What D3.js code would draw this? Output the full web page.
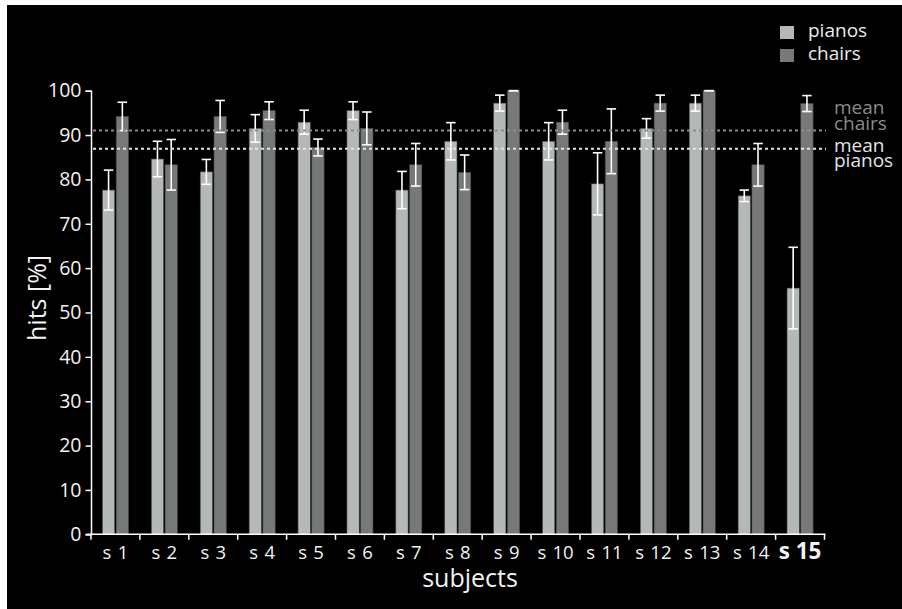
<!DOCTYPE html>
<html>
<head>
<meta charset="utf-8">
<script src="https://cdn.jsdelivr.net/npm/d3@7"></script>
<style>
  html, body { margin: 0; padding: 0; background: #fff; }
  svg { display: block; }
  text { font-family: "Open Sans", "DejaVu Sans", sans-serif; }
</style>
</head>
<body>
<svg id="chart" width="902" height="609"></svg>
<script>
// Per-subject hit rates (%) with error half-widths
const subjects = ["s 1","s 2","s 3","s 4","s 5","s 6","s 7","s 8","s 9","s 10","s 11","s 12","s 13","s 14","s 15"];
const series = ["pianos", "chairs"];
const pianos    = [77.6, 84.6, 81.7, 91.5, 92.9, 95.5, 77.6, 88.6, 97.2, 88.6, 79.0, 91.5, 97.2, 76.3, 55.5];
const pianosErr = [ 4.5,  4.0,  2.8,  3.1,  2.7,  2.0,  4.2,  4.2,  1.8,  4.2,  7.0,  2.2,  1.8,  1.3,  9.2];
const chairs    = [94.2, 83.3, 94.2, 95.5, 87.2, 91.5, 83.3, 81.6, 100,  92.9, 88.6, 97.2, 100,  83.3, 97.1];
const chairsErr = [ 3.2,  5.7,  3.6,  2.0,  1.9,  3.7,  4.8,  3.9,  0.0,  2.7,  7.3,  1.8,  0.0,  4.8,  1.8];
const yTicks = [0, 10, 20, 30, 40, 50, 60, 70, 80, 90, 100];
// Group means over subjects s 1 – s 14
const meanPianos = 86.9;
const meanChairs = 91.0;

const colors = { pianos: "#b5b8b8", chairs: "#777878" };
const meanColors = { pianos: "#e4e4e4", chairs: "#8c8c8c" };

const svg = d3.select("#chart");

// white page with a black panel
svg.append("rect").attr("x", 0).attr("y", 0).attr("width", 902).attr("height", 609).attr("fill", "#fff");
svg.append("rect").attr("x", 7).attr("y", 5).attr("width", 895).attr("height", 604).attr("fill", "#000");

const x0 = d3.scaleBand().domain(subjects).range([91, 824.5]).padding(0);
const x1 = d3.scaleBand().domain(series).range([0, x0.bandwidth()])
  .paddingInner(0.11).paddingOuter(0.83);
const y = d3.scaleLinear().domain([0, 100]).range([534.3, 90.7]);

const rows = subjects.map((s, i) => ({
  subject: s,
  values: [
    { key: "pianos", v: pianos[i], e: pianosErr[i] },
    { key: "chairs", v: chairs[i], e: chairsErr[i] }
  ]
}));

// bars
const groups = svg.append("g").selectAll("g").data(rows).join("g")
  .attr("transform", d => `translate(${x0(d.subject)},0)`);

groups.selectAll("rect").data(d => d.values).join("rect")
  .attr("x", d => x1(d.key))
  .attr("width", x1.bandwidth())
  .attr("y", d => y(d.v))
  .attr("height", d => y(0) - y(d.v))
  .attr("fill", d => colors[d.key])
  .attr("stroke", "#4a4a4a")
  .attr("stroke-width", 0.6);

// mean lines
const meanG = svg.append("g");
[["chairs", meanChairs], ["pianos", meanPianos]].forEach(([k, m]) => {
  meanG.append("line")
    .attr("x1", 93).attr("x2", 826)
    .attr("y1", y(m)).attr("y2", y(m))
    .attr("stroke", meanColors[k])
    .attr("stroke-width", 2)
    .attr("stroke-dasharray", "3,3");
});

// error bars
const capW = 9.5;
const eb = groups.selectAll("g.err").data(d => d.values).join("g").attr("class", "err")
  .attr("stroke", "#fff").attr("stroke-width", 1.6).attr("fill", "none");
eb.append("line")
  .attr("x1", d => x1(d.key) + x1.bandwidth() / 2)
  .attr("x2", d => x1(d.key) + x1.bandwidth() / 2)
  .attr("y1", d => y(Math.min(100, d.v + d.e)))
  .attr("y2", d => y(d.v - d.e));
eb.append("line")
  .attr("x1", d => x1(d.key) + x1.bandwidth() / 2 - capW / 2)
  .attr("x2", d => x1(d.key) + x1.bandwidth() / 2 + capW / 2)
  .attr("y1", d => y(Math.min(100, d.v + d.e)))
  .attr("y2", d => y(Math.min(100, d.v + d.e)));
eb.append("line")
  .attr("x1", d => x1(d.key) + x1.bandwidth() / 2 - capW / 2)
  .attr("x2", d => x1(d.key) + x1.bandwidth() / 2 + capW / 2)
  .attr("y1", d => y(d.v - d.e))
  .attr("y2", d => y(d.v - d.e));

// y axis
const yAxis = svg.append("g").attr("transform", "translate(91,0)")
  .call(d3.axisLeft(y).tickValues(yTicks).tickSize(5.5).tickPadding(4));
yAxis.select(".domain").attr("stroke", "#fff").attr("stroke-width", 1.5);
yAxis.selectAll(".tick line").attr("stroke", "#fff").attr("stroke-width", 1.5);
yAxis.selectAll(".tick text").attr("fill", "#f2f2f2").attr("font-size", 19.5)
  .attr("font-family", "'Open Sans', sans-serif");

// x axis: ticks on the band boundaries
const xAxisG = svg.append("g").attr("transform", `translate(0,${y(0)})`);
xAxisG.append("line").attr("x1", 86).attr("x2", 825.5).attr("y1", 0).attr("y2", 0)
  .attr("stroke", "#fff").attr("stroke-width", 1.5);
const boundaries = subjects.map(s => x0(s)).concat([x0(subjects[subjects.length - 1]) + x0.bandwidth()]);
xAxisG.selectAll("line.tk").data(boundaries).join("line").attr("class", "tk")
  .attr("x1", d => d).attr("x2", d => d).attr("y1", 0).attr("y2", 5.5)
  .attr("stroke", "#fff").attr("stroke-width", 1.5);
xAxisG.selectAll("text").data(subjects).join("text")
  .attr("x", d => x0(d) + x0.bandwidth() / 2)
  .attr("y", 24.5)
  .attr("text-anchor", "middle")
  .attr("fill", "#f2f2f2")
  .attr("font-size", (d, i) => i === subjects.length - 1 ? 22.5 : 18.5)
  .attr("font-weight", (d, i) => i === subjects.length - 1 ? "bold" : "normal")
  .attr("word-spacing", (d, i) => i === subjects.length - 1 ? 0 : 1.5)
  .text(d => d);

// axis titles
svg.append("text").attr("x", 470).attr("y", 586.5).attr("text-anchor", "middle")
  .attr("fill", "#f2f2f2").attr("font-size", 25).text("subjects");
svg.append("text").attr("transform", "translate(46,298) rotate(-90)").attr("text-anchor", "middle")
  .attr("fill", "#f2f2f2").attr("font-size", 25).text("hits [%]");

// mean labels, two lines each
const ml = svg.append("g").attr("font-size", 19);
[["chairs", 114.3], ["pianos", 151.5]].forEach(([k, yy]) => {
  const t = ml.append("text").attr("x", 834).attr("y", yy).attr("fill", meanColors[k]);
  t.append("tspan").attr("x", 834).text("mean");
  t.append("tspan").attr("x", 834).attr("dy", 15.7).text(k);
});

// legend
const lg = svg.append("g").selectAll("g").data(series).join("g")
  .attr("transform", (d, i) => `translate(780,${26 + i * 23})`);
lg.append("rect").attr("width", 14).attr("height", 13).attr("fill", d => colors[d]);
lg.append("text").attr("x", 28).attr("y", 11).attr("fill", "#ececec").attr("font-size", 19).text(d => d);
</script>
</body>
</html>
